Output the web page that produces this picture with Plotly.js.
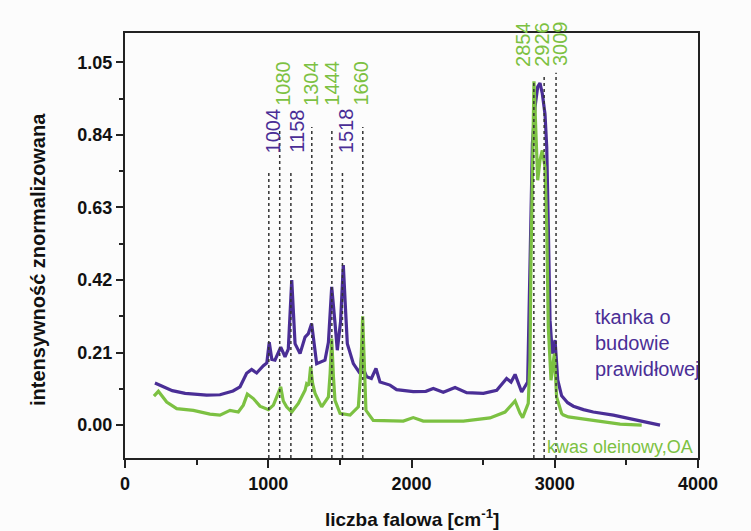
<!DOCTYPE html>
<html>
<head>
<meta charset="utf-8">
<script src="https://cdn.plot.ly/plotly-3.0.1.min.js"></script>
<style>html,body{margin:0;padding:0;background:#fcfcfc;}#chart{width:751px;height:531px;}</style>
</head>
<body>
<div id="chart"></div>
<script>
// tissue spectrum ("tkanka o budowie prawidłowej")
const tissueWn = [209, 260, 330, 420, 500, 570, 663, 754, 803, 849, 884, 919, 966, 990, 1007, 1025, 1047, 1087, 1117, 1140, 1164, 1187, 1222, 1257, 1280, 1303, 1338, 1396, 1420, 1443, 1465, 1482, 1505, 1524, 1540, 1552, 1594, 1640, 1652, 1667, 1687, 1720, 1752, 1780, 1850, 1896, 2012, 2100, 2152, 2222, 2304, 2385, 2502, 2595, 2664, 2695, 2723, 2769, 2811, 2827, 2844, 2862, 2881, 2897, 2913, 2932, 2944, 2955, 2967, 2983, 3002, 3021, 3048, 3090, 3130, 3200, 3269, 3409, 3548, 3665, 3735];
const tissueInt = [0.122, 0.112, 0.100, 0.092, 0.089, 0.087, 0.088, 0.099, 0.111, 0.150, 0.161, 0.151, 0.172, 0.180, 0.240, 0.190, 0.188, 0.226, 0.198, 0.220, 0.420, 0.236, 0.207, 0.255, 0.265, 0.294, 0.178, 0.188, 0.240, 0.400, 0.300, 0.217, 0.300, 0.463, 0.330, 0.236, 0.178, 0.150, 0.200, 0.160, 0.140, 0.135, 0.164, 0.125, 0.116, 0.103, 0.097, 0.098, 0.106, 0.095, 0.109, 0.094, 0.092, 0.101, 0.135, 0.125, 0.147, 0.096, 0.125, 0.477, 0.815, 0.920, 0.979, 0.990, 0.960, 0.900, 0.805, 0.574, 0.304, 0.207, 0.246, 0.130, 0.085, 0.065, 0.055, 0.045, 0.038, 0.029, 0.016, 0.007, 0.000];

// oleic acid spectrum ("kwas oleinowy, OA")
const oaWn = [202, 233, 291, 361, 477, 593, 663, 733, 791, 826, 854, 896, 942, 1001, 1036, 1054, 1087, 1105, 1128, 1164, 1210, 1257, 1268, 1283, 1296, 1310, 1327, 1373, 1420, 1432, 1443, 1455, 1466, 1501, 1571, 1629, 1645, 1659, 1670, 1682, 1733, 1850, 1943, 2012, 2082, 2362, 2548, 2653, 2723, 2757, 2776, 2815, 2827, 2834, 2844, 2855, 2867, 2881, 2897, 2913, 2932, 2944, 2955, 2974, 2997, 3013, 3048, 3058, 3095, 3176, 3316, 3456, 3607];
const oaInt = [0.084, 0.098, 0.067, 0.048, 0.043, 0.032, 0.029, 0.043, 0.038, 0.058, 0.090, 0.077, 0.055, 0.045, 0.058, 0.078, 0.111, 0.070, 0.053, 0.038, 0.063, 0.101, 0.120, 0.115, 0.169, 0.120, 0.092, 0.053, 0.082, 0.150, 0.251, 0.140, 0.072, 0.034, 0.029, 0.053, 0.150, 0.315, 0.150, 0.043, 0.014, 0.012, 0.012, 0.022, 0.012, 0.012, 0.021, 0.038, 0.070, 0.035, 0.022, 0.063, 0.188, 0.477, 0.767, 0.995, 0.863, 0.709, 0.767, 0.795, 0.747, 0.574, 0.284, 0.130, 0.207, 0.082, 0.034, 0.030, 0.024, 0.019, 0.010, 0.003, 0.000];

// marked bands
const peakWn = [1004, 1080, 1158, 1304, 1444, 1518, 1660, 2854, 2926, 3009];
const peakLabels = ["1004", "1080", "1158", "1304", "1444", "1518", "1660", "2854", "2926", "3009"];
const peakSeries = ["tissue", "oa", "tissue", "oa", "oa", "tissue", "oa", "oa", "oa", "oa"];
const peakLineTop = [0.738, 0.858, 0.738, 0.863, 0.859, 0.733, 0.863, 0.998, 1.010, 1.020];
const peakLabelMid = [0.822, 0.961, 0.822, 0.961, 0.961, 0.822, 0.961, 1.074, 1.074, 1.074];

const xTicks = [0, 1000, 2000, 3000, 4000];
const yTicks = [0.00, 0.21, 0.42, 0.63, 0.84, 1.05];

const PURPLE = "#4a2e96";
const GREEN = "#7cc142";
const FONT = "Liberation Sans, Arial, sans-serif";
const labelShift = [4.5, 3, 6.6, -1, 0.7, 3.6, -1.3, -11, -2.4, 4];

const traces = [
  {x: tissueWn, y: tissueInt, type: "scatter", mode: "lines", line: {color: PURPLE, width: 3.2}, hoverinfo: "skip"},
  {x: oaWn, y: oaInt, type: "scatter", mode: "lines", line: {color: GREEN, width: 3.2}, hoverinfo: "skip"}
];

const shapes = peakWn.map((w, i) => ({
  type: "line", xref: "x", yref: "y", x0: w, x1: w, y0: -0.095, y1: peakLineTop[i],
  line: {color: "#333", width: 1.5, dash: "dot"}, layer: "above"
}));

const annotations = peakWn.map((w, i) => ({
  x: w, y: peakLabelMid[i], xref: "x", yref: "y", text: peakLabels[i],
  showarrow: false, textangle: -90, xanchor: "center", yanchor: "middle",
  xshift: labelShift[i], yshift: 10,
  font: {family: FONT, size: 20, color: peakSeries[i] === "tissue" ? PURPLE : GREEN}
}));

annotations.push(
  {xref: "paper", yref: "paper", x: 0.816, y: 0.362, xanchor: "left", yanchor: "top", align: "left",
   text: "tkanka o<br>budowie<br>prawidłowej", showarrow: false,
   font: {family: FONT, size: 20, color: PURPLE}},
  {xref: "paper", yref: "paper", x: 0.733, y: 0.026, xanchor: "left", yanchor: "middle",
   text: "kwas oleinowy,OA", showarrow: false,
   font: {family: FONT, size: 18, color: GREEN}},
  {xref: "paper", yref: "paper", x: -0.152, y: 0.468, xanchor: "center", yanchor: "middle",
   text: "intensywność znormalizowana", textangle: -90, showarrow: false,
   font: {family: FONT, size: 20, color: "#111", weight: "bold"}},
  {xref: "paper", yref: "paper", x: 0.5, y: -0.141, xanchor: "center", yanchor: "middle",
   text: "liczba falowa [cm<sup>-1</sup>]", showarrow: false,
   font: {family: FONT, size: 19, color: "#111", weight: "bold"}}
);

const layout = {
  width: 751, height: 531,
  margin: {l: 125, r: 53, t: 33, b: 73},
  paper_bgcolor: "#fcfcfc", plot_bgcolor: "#fcfcfc",
  showlegend: false,
  xaxis: {
    range: [0, 4000], tickvals: xTicks, ticktext: xTicks.map(String),
    ticks: "outside", ticklen: 8, tickwidth: 2, tickcolor: "#222",
    showline: true, linewidth: 2, linecolor: "#222", mirror: true,
    showgrid: false, zeroline: false,
    minor: {dtick: 500, tick0: 0, ticks: "outside", ticklen: 5, tickwidth: 2, tickcolor: "#222", showgrid: false},
    tickfont: {family: FONT, size: 18, color: "#111", weight: "bold"}
  },
  yaxis: {
    range: [-0.095, 1.135], tickvals: yTicks, ticktext: yTicks.map(v => v.toFixed(2)),
    ticks: "outside", ticklen: 7, tickwidth: 2, tickcolor: "#222",
    showline: true, linewidth: 2, linecolor: "#222", mirror: true,
    showgrid: false, zeroline: false,
    minor: {dtick: 0.105, tick0: 0, ticks: "outside", ticklen: 4, tickwidth: 2, tickcolor: "#222", showgrid: false},
    tickfont: {family: FONT, size: 18, color: "#111", weight: "bold"}
  },
  shapes: shapes,
  annotations: annotations
};

Plotly.newPlot("chart", traces, layout, {displayModeBar: false, staticPlot: true});
</script>
</body>
</html>
